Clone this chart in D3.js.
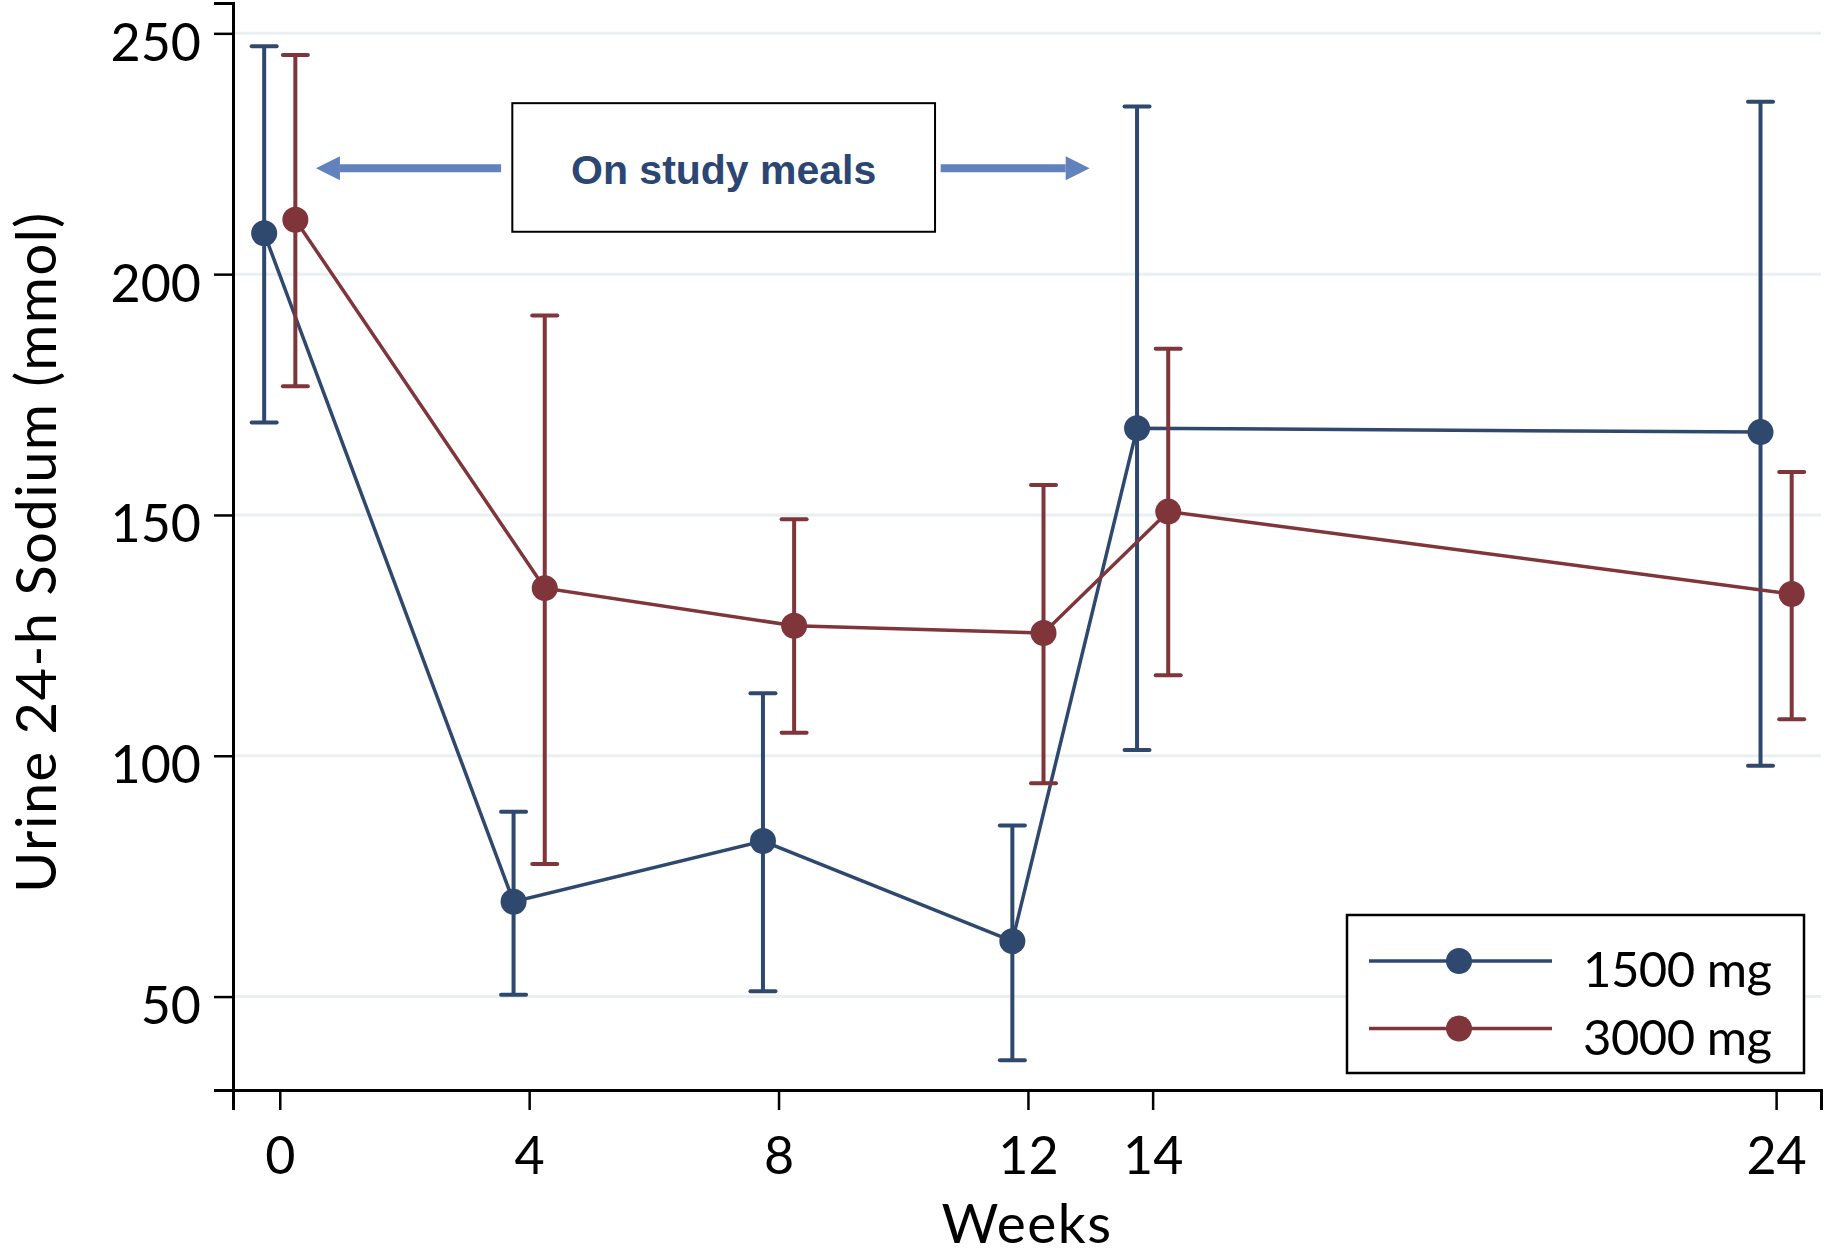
<!DOCTYPE html>
<html>
<head>
<meta charset="utf-8">
<script src="https://cdn.jsdelivr.net/npm/d3@7"></script>
<style>
  body { margin: 0; background: #fff; }
  text { font-family: Lato, "Noto Sans", sans-serif; }
</style>
</head>
<body>
<script>
// data (mean and error bar ends, mmol)
const weeks = [0, 4, 8, 12, 14, 24]
const mean1500 = [208.5, 69.7, 82.3, 61.5, 168.0, 167.2]
const low1500 = [169.2, 50.4, 51.1, 36.8, 101.2, 97.9]
const high1500 = [247.3, 88.4, 113.0, 85.5, 234.8, 235.8]
const mean3000 = [211.3, 134.8, 127.0, 125.5, 150.7, 133.6]
const low3000 = [176.7, 77.5, 104.8, 94.3, 116.7, 107.6]
const high3000 = [245.5, 191.4, 149.1, 156.2, 184.5, 158.9]
const yTicks = [50, 100, 150, 200, 250]
const seriesNames = ['1500 mg', '3000 mg']

const width = 1830
const height = 1256
const colors = ['#2f486e', '#7f353a']
const dodge = [-0.25, 0.25]

const svg = d3.select('body').append('svg')
    .attr('width', width)
    .attr('height', height)

let x = d3.scaleLinear().domain([-0.75, 24.72]).range([233, 1821])
let y = d3.scaleLinear().domain([30.6, 256.3]).range([1090, 3])

// gridlines
svg.selectAll('.grid')
    .data(yTicks)
    .join('line')
    .attr('class', 'grid')
    .attr('x1', x.range()[0])
    .attr('x2', x.range()[1])
    .attr('y1', d => y(d))
    .attr('y2', d => y(d))
    .attr('stroke', '#eaf0f2')
    .attr('stroke-width', 3)

// y axis
let yAxis = svg.append('g')
    .attr('transform', 'translate(233,0)')
    .call(d3.axisLeft(y).tickValues(yTicks).tickSize(19).tickPadding(13))
yAxis.select('.domain').attr('stroke', '#000').attr('stroke-width', 3)
yAxis.selectAll('.tick line').attr('stroke', '#000').attr('stroke-width', 2.5)
yAxis.selectAll('.tick text')
    .attr('font-size', 52)
    .attr('fill', '#000')
    .attr('dy', 27)

// x axis
let xAxis = svg.append('g')
    .attr('transform', 'translate(0,1090)')
    .call(d3.axisBottom(x).tickValues(weeks).tickSize(20).tickPadding(26))
xAxis.select('.domain').attr('stroke', '#000').attr('stroke-width', 3)
xAxis.selectAll('.tick line').attr('stroke', '#000').attr('stroke-width', 2.5)
xAxis.selectAll('.tick text')
    .attr('font-size', 52)
    .attr('fill', '#000')
    .attr('dy', 0)
    .attr('y', 84)

// axis titles
svg.append('text')
    .attr('x', 1027)
    .attr('y', 1243)
    .attr('text-anchor', 'middle')
    .attr('font-size', 55)
    .attr('letter-spacing', 1.5)
    .text('Weeks')

svg.append('text')
    .attr('transform', 'translate(56,552) rotate(-90)')
    .attr('text-anchor', 'middle')
    .attr('font-size', 56)
    .attr('letter-spacing', 1.5)
    .text('Urine 24-h Sodium (mmol)')

// annotation: box and arrows
const boxWeeks = [3.73, 10.51]
const boxVals = [235.5, 208.8]
const arrowVal = 222
svg.append('rect')
    .attr('x', x(boxWeeks[0]))
    .attr('y', y(boxVals[0]))
    .attr('width', x(boxWeeks[1]) - x(boxWeeks[0]))
    .attr('height', y(boxVals[1]) - y(boxVals[0]))
    .attr('fill', '#fff')
    .attr('stroke', '#000')
    .attr('stroke-width', 2)
svg.append('text')
    .attr('x', (x(boxWeeks[0]) + x(boxWeeks[1])) / 2)
    .attr('y', 184)
    .attr('text-anchor', 'middle')
    .attr('font-weight', 'bold')
    .attr('font-size', 41)
    .attr('fill', '#2c4674')
    .style('font-family', '"Liberation Sans", Arial, sans-serif')
    .text('On study meals')

function arrow(fromWeek, toWeek) {
    let x0 = x(fromWeek), x1 = x(toWeek), yy = y(arrowVal)
    let dir = x1 > x0 ? 1 : -1
    let headLen = 24
    svg.append('line')
        .attr('x1', x0).attr('x2', x1 - dir * headLen)
        .attr('y1', yy).attr('y2', yy)
        .attr('stroke', '#6282be')
        .attr('stroke-width', 8)
    svg.append('path')
        .attr('d', `M${x1},${yy} L${x1 - dir * headLen},${yy - 12} L${x1 - dir * headLen},${yy + 12} Z`)
        .attr('fill', '#6282be')
}
arrow(3.55, 0.58)
arrow(10.6, 12.99)

// series
const series = [
    { mean: mean1500, low: low1500, high: high1500 },
    { mean: mean3000, low: low3000, high: high3000 }
]

let line = d3.line()
    .x(d => x(d.w))
    .y(d => y(d.v))

series.forEach((s, k) => {
    let pts = weeks.map((w, i) => ({ w: w + dodge[k], v: s.mean[i], lo: s.low[i], hi: s.high[i] }))
    let g = svg.append('g')

    // error bars
    g.selectAll('.err')
        .data(pts)
        .join('line')
        .attr('x1', d => x(d.w)).attr('x2', d => x(d.w))
        .attr('y1', d => y(d.lo)).attr('y2', d => y(d.hi))
        .attr('stroke', colors[k])
        .attr('stroke-width', 4)
    g.selectAll('.capHi')
        .data(pts)
        .join('line')
        .attr('x1', d => x(d.w) - 12.5).attr('x2', d => x(d.w) + 12.5)
        .attr('y1', d => y(d.hi)).attr('y2', d => y(d.hi))
        .attr('stroke', colors[k])
        .attr('stroke-width', 4)
        .attr('stroke-linecap', 'round')
    g.selectAll('.capLo')
        .data(pts)
        .join('line')
        .attr('x1', d => x(d.w) - 12.5).attr('x2', d => x(d.w) + 12.5)
        .attr('y1', d => y(d.lo)).attr('y2', d => y(d.lo))
        .attr('stroke', colors[k])
        .attr('stroke-width', 4)
        .attr('stroke-linecap', 'round')

    g.append('path')
        .datum(pts)
        .attr('d', line)
        .attr('fill', 'none')
        .attr('stroke', colors[k])
        .attr('stroke-width', 3.5)

    g.selectAll('circle')
        .data(pts)
        .join('circle')
        .attr('cx', d => x(d.w))
        .attr('cy', d => y(d.v))
        .attr('r', 13)
        .attr('fill', colors[k])
})

// legend
let legend = svg.append('g')
legend.append('rect')
    .attr('x', 1347).attr('y', 915)
    .attr('width', 457).attr('height', 158)
    .attr('fill', '#fff')
    .attr('stroke', '#000')
    .attr('stroke-width', 2.5)
seriesNames.forEach((name, k) => {
    let ly = 961 + k * 67.5
    legend.append('line')
        .attr('x1', 1369).attr('x2', 1552)
        .attr('y1', ly).attr('y2', ly)
        .attr('stroke', colors[k])
        .attr('stroke-width', 3.5)
    legend.append('circle')
        .attr('cx', 1459).attr('cy', ly)
        .attr('r', 13)
        .attr('fill', colors[k])
    legend.append('text')
        .attr('x', 1583)
        .attr('y', ly + 26)
        .attr('font-size', 49)
        .attr('letter-spacing', -0.5)
        .text(name)
})
</script>
</body>
</html>
